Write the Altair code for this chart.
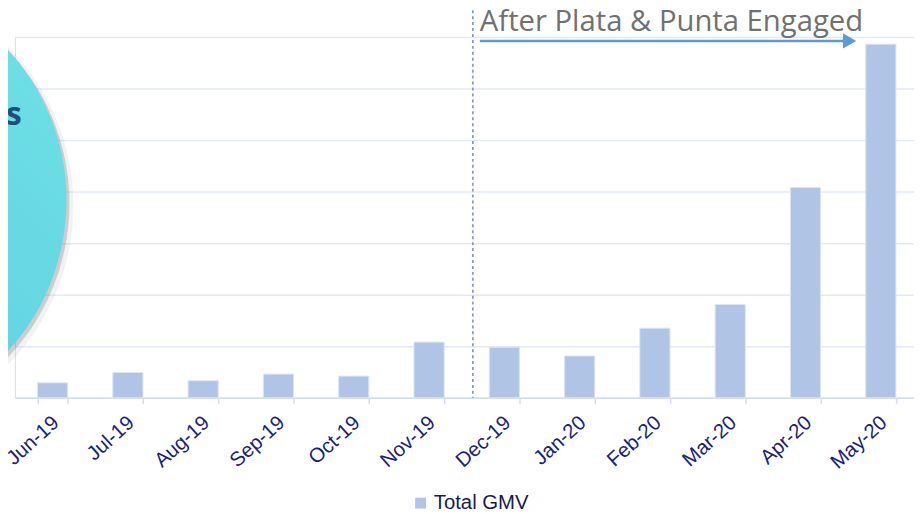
import altair as alt
import pandas as pd

months = ["Jun-19", "Jul-19", "Aug-19", "Sep-19", "Oct-19", "Nov-19",
          "Dec-19", "Jan-20", "Feb-20", "Mar-20", "Apr-20", "May-20"]
gmv = [0.29, 0.49, 0.33, 0.46, 0.42, 1.08, 0.98, 0.81, 1.35, 1.81, 4.08, 6.86]
series = ["Total GMV"] * len(months)
annotation = "After Plata & Punta Engaged"
circle_word = "s"
grid_values = [0, 1, 2, 3, 4, 5, 6, 7]

df = pd.DataFrame({"month": months, "gmv": gmv, "series": series})

PADL = 7
W, H = 914 - PADL, 364
BAR = "#b0c4e6"
OX = 2

xscale = alt.Scale(domain=months, range=[0, 911.5], paddingInner=0.6, paddingOuter=0.3)
yscale = alt.Scale(domain=[0, 7], nice=False)

one = pd.DataFrame({"k": [0]})

R = 225
CX, CY = -173, 165

shadow1 = alt.Chart(one).mark_point(filled=True, shape="circle", color="#909090",
                                     opacity=0.12, strokeWidth=0).encode(
    x=alt.value(CX + 4), y=alt.value(CY + 5), size=alt.value((2 * (R + 3)) ** 2))
shadow2 = alt.Chart(one).mark_point(filled=True, shape="circle", color="#707070",
                                     opacity=0.28, strokeWidth=0).encode(
    x=alt.value(CX + 3), y=alt.value(CY + 3), size=alt.value((2 * R) ** 2))
circle = alt.Chart(one).mark_point(
    filled=True, shape="circle", strokeWidth=0, opacity=1,
    color=alt.Gradient(gradient="linear",
                       stops=[alt.GradientStop(color="#70e2e6", offset=0),
                              alt.GradientStop(color="#58c7df", offset=1)],
                       x1=1, y1=0, x2=0, y2=1)).encode(
    x=alt.value(CX), y=alt.value(CY), size=alt.value((2 * R) ** 2))
circle_text = alt.Chart(one).mark_text(
    text=circle_word, align="right", baseline="alphabetic", font="Open Sans",
    fontWeight="bold", fontSize=32, color="#1f4e79").encode(
    x=alt.value(7), y=alt.value(89))

bars = alt.Chart(df).mark_bar(stroke="#dbe4f4", strokeWidth=1).encode(
    x=alt.X("month:N", scale=xscale, sort=months,
            axis=alt.Axis(title=None, labelAngle=-42, labelAlign="right",
                          labelBaseline="middle", labelFont="Liberation Sans",
                          labelFontSize=20.5, labelColor="#1b1f78", labelPadding=16,
                          labelOffset=3,
                          tickBand="extent", tickSize=6, tickColor="#d3ddf0",
                          tickWidth=1.5, domainColor="#d3ddf0", domainWidth=1.5,
                          grid=False)),
    y=alt.Y("gmv:Q", scale=yscale,
            axis=alt.Axis(title=None, values=grid_values, labels=False, ticks=False,
                          domain=False, grid=True, gridColor="#e3e9f6",
                          gridWidth=1.5)),
    color=alt.Color("series:N", scale=alt.Scale(domain=["Total GMV"], range=[BAR]),
                    legend=alt.Legend(title=None, orient="none", legendX=397 + OX,
                                      legendY=460, symbolType="square",
                                      symbolSize=121, symbolStrokeWidth=0,
                                      labelFont="Liberation Sans", labelFontSize=20.5,
                                      labelColor="#1a1a4e", labelOffset=3,
                                      padding=0)),
)

divider = alt.Chart(one).mark_rule(color="#4a6cc0", strokeWidth=1.2,
                                   strokeDash=[3, 3]).encode(
    x=alt.value(460 + OX), y=alt.value(-27), y2=alt.value(H))

arrow_line = alt.Chart(one).mark_rule(color="#5b9bd5", strokeWidth=2.5).encode(
    x=alt.value(467 + OX), x2=alt.value(836 + OX), y=alt.value(4))
arrow_head = alt.Chart(one).mark_point(shape="triangle-right", filled=True,
                                       color="#5b9bd5", opacity=1, strokeWidth=0).encode(
    x=alt.value(840 + OX), y=alt.value(4), size=alt.value(240))
arrow_text = alt.Chart(one).mark_text(
    text=annotation, align="left", baseline="alphabetic", font="Open Sans",
    fontSize=29.5, color="#707070").encode(x=alt.value(467 + OX), y=alt.value(-6))

chart = alt.layer(
    bars, shadow1, shadow2, circle, circle_text, divider, arrow_line, arrow_head, arrow_text
).properties(
    width=W, height=H,
    autosize=alt.AutoSizeParams(type="none"),
    padding={"left": PADL, "top": 27, "right": 0, "bottom": 114},
).configure_view(stroke=None).configure(background="white")

chart.save("out.html", embed_options={"renderer": "svg", "actions": False})
